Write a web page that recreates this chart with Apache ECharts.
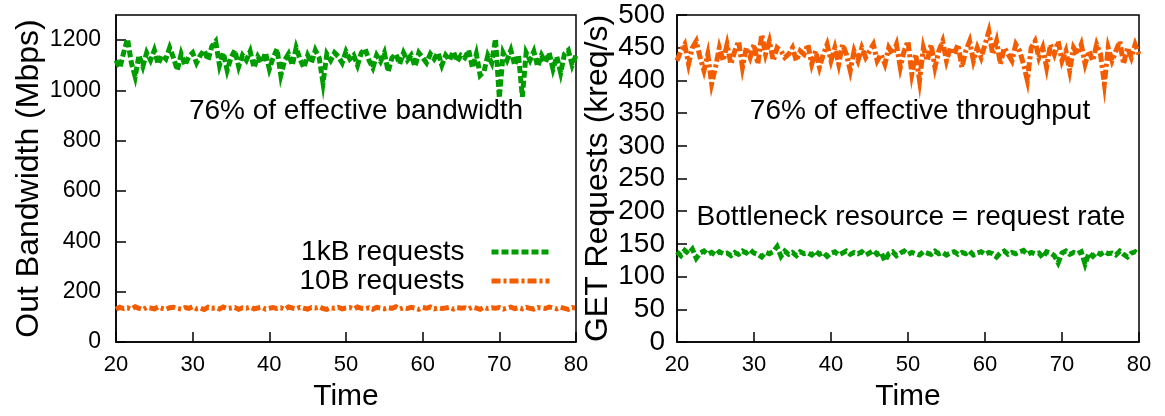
<!DOCTYPE html>
<html>
<head>
<meta charset="utf-8">
<script src="https://cdn.jsdelivr.net/npm/echarts@6/dist/echarts.min.js"></script>
<style>
  html, body { margin: 0; padding: 0; background: #fff; }
  #chart { width: 1165px; height: 416px; }
</style>
</head>
<body>
<div id="chart"></div>
<script>
// Sample times (s)
const TIME = [
  20, 20.5, 21, 21.5, 22, 22.5, 23, 23.5, 24, 24.5,
  25, 25.5, 26, 26.5, 27, 27.5, 28, 28.5, 29, 29.5,
  30, 30.5, 31, 31.5, 32, 32.5, 33, 33.5, 34, 34.5,
  35, 35.5, 36, 36.5, 37, 37.5, 38, 38.5, 39, 39.5,
  40, 40.5, 41, 41.5, 42, 42.5, 43, 43.5, 44, 44.5,
  45, 45.5, 46, 46.5, 47, 47.5, 48, 48.5, 49, 49.5,
  50, 50.5, 51, 51.5, 52, 52.5, 53, 53.5, 54, 54.5,
  55, 55.5, 56, 56.5, 57, 57.5, 58, 58.5, 59, 59.5,
  60, 60.5, 61, 61.5, 62, 62.5, 63, 63.5, 64, 64.5,
  65, 65.5, 66, 66.5, 67, 67.5, 68, 68.5, 69, 69.5,
  70, 70.5, 71, 71.5, 72, 72.5, 73, 73.5, 74, 74.5,
  75, 75.5, 76, 76.5, 77, 77.5, 78, 78.5, 79, 79.5,
  80
];

// Outgoing bandwidth (Mbps)
const BW_1KB = [
  1120, 1090, 1150, 1205, 1110, 1055, 1140, 1095, 1150, 1120,
  1160, 1105, 1140, 1125, 1170, 1130, 1080, 1145, 1100, 1135,
  1150, 1110, 1140, 1160, 1120, 1175, 1195, 1100, 1150, 1080,
  1130, 1160, 1095, 1140, 1120, 1155, 1090, 1135, 1110, 1150,
  1085, 1130, 1165, 1060, 1120, 1145, 1100, 1170, 1125, 1090,
  1140, 1110, 1160, 1130, 1030, 1145, 1120, 1150, 1135, 1110,
  1155, 1125, 1140, 1100, 1150, 1165, 1120, 1090, 1140, 1115,
  1150, 1075, 1130, 1145, 1105, 1150, 1120, 1140, 1095, 1150,
  1130, 1110, 1145, 1125, 1150, 1100, 1140, 1120, 1155, 1115,
  1140, 1130, 1160, 1090, 1145, 1060, 1075, 1140, 1110, 1205,
  970, 1150, 1120, 1160, 1100, 1140, 975, 1150, 1120, 1155,
  1095, 1140, 1110, 1150, 1085, 1135, 1070, 1145, 1160, 1100,
  1140
];
const BW_10B = [
  130, 138, 133, 136, 131, 140, 134, 129, 137, 135,
  132, 139, 134, 130, 136, 138, 133, 131, 137, 134,
  140, 132, 135, 129, 138, 134, 136, 131, 139, 133,
  135, 137, 130, 136, 134, 139, 132, 135, 138, 131,
  134, 137, 133, 136, 130, 139, 135, 132, 138, 134,
  131, 137, 135, 140, 133, 130, 136, 134, 138, 132,
  135, 137, 131, 139, 134, 133, 136, 130, 138, 135,
  132, 137, 134, 140, 131, 136, 133, 138, 135, 130,
  137, 134, 139, 132, 136, 133, 135, 138, 131, 137,
  134, 136, 132, 139, 135, 130, 138, 133, 136, 134,
  137, 131, 135, 139, 133, 136, 132, 138, 134, 131,
  137, 135, 133, 139, 136, 132, 138, 134, 130, 137,
  135
];

// GET request rate (kreq/s)
const REQ_1KB = [
  138, 132, 140, 135, 142, 128, 136, 139, 134, 137,
  133, 138, 135, 136, 132, 137, 134, 139, 136, 141,
  136, 134, 130, 137, 135, 138, 146, 131, 139, 134,
  137, 132, 138, 135, 136, 133, 139, 134, 137, 131,
  136, 138, 133, 136, 139, 134, 137, 135, 138, 133,
  136, 140, 134, 137, 124, 135, 138, 132, 136, 139,
  134, 137, 135, 133, 138, 136, 134, 139, 135, 137,
  133, 136, 138, 134, 137, 135, 139, 133, 136, 138,
  134, 137, 135, 130, 136, 139, 134, 137, 135, 138,
  140, 134, 137, 135, 136, 129, 138, 136, 132, 121,
  136, 139, 134, 137, 135, 138, 119, 136, 131, 137,
  134, 138, 135, 136, 133, 139, 134, 130, 136, 138,
  134
];
const REQ_10B = [
  430, 445, 455, 425, 450, 460, 435, 415, 440, 395,
  420, 450, 430, 455, 425, 445, 460, 420, 450, 435,
  455, 425, 470, 440, 460, 430, 450, 445, 435, 440,
  450, 430, 445, 440, 455, 425, 445, 420, 440, 455,
  430, 450, 425, 455, 440, 415, 445, 430, 450, 435,
  445, 455, 430, 440, 425, 450, 440, 455, 420, 445,
  460, 410, 440, 400, 450, 430, 455, 420, 445, 460,
  430, 450, 440, 455, 420, 445, 460, 430, 450, 435,
  455, 475, 440, 460, 425, 450, 440, 430, 455, 445,
  425, 400, 450, 460, 435, 450, 420, 455, 440, 460,
  430, 445, 415, 450, 440, 455, 425, 445, 430, 455,
  440, 395, 450, 430, 445, 460, 425, 450, 435, 455,
  440
];

const SERIES_NAMES = ['1kB requests', '10B requests'];
const TIME_RANGE = [20, 80, 10];
const BW_RANGE = [0, 1300, 200];
const REQ_RANGE = [0, 500, 50];

const FONT = '"Liberation Sans", Arial, Helvetica, sans-serif';
const GREEN = '#009c00';
const ORANGE = '#f45c00';

const pairs = (vals) => TIME.map((t, i) => [t, vals[i]]);
const plain = (v) => String(v);

const chart = echarts.init(document.getElementById('chart'), null, { renderer: 'canvas' });

const axisCommon = {
  axisLine: { show: true, onZero: false, lineStyle: { color: '#000', width: 1.5 } },
  axisTick: { show: true, inside: true, length: 10, lineStyle: { color: '#000', width: 1.5 } },
  splitLine: { show: false }
};

const xAxis = (gridIndex) => Object.assign({}, axisCommon, {
  type: 'value', gridIndex,
  min: TIME_RANGE[0], max: TIME_RANGE[1], interval: TIME_RANGE[2],
  name: 'Time', nameLocation: 'middle', nameGap: 40,
  nameTextStyle: { color: '#000', fontFamily: FONT, fontSize: 30 },
  axisLabel: { color: '#000', fontFamily: FONT, fontSize: 22, margin: 12, formatter: plain }
});

const lineSeries = (name, data, xi, yi, color, dash) => ({
  name, type: 'line', xAxisIndex: xi, yAxisIndex: yi,
  data, showSymbol: false, symbol: 'none', animation: false,
  lineStyle: { color, width: 5, type: dash, cap: 'butt', join: 'miter' },
  itemStyle: { color }
});

const gridBox = { top: 15, bottom: 74, show: true, borderColor: '#000', borderWidth: 1.5,
  backgroundColor: 'transparent', containLabel: false, outerBoundsMode: 'none' };

chart.setOption({
  backgroundColor: '#fff',
  animation: false,
  grid: [
    Object.assign({ left: 116, right: 589 }, gridBox),
    Object.assign({ left: 677, right: 26 }, gridBox)
  ],
  xAxis: [xAxis(0), xAxis(1)],
  yAxis: [
    Object.assign({}, axisCommon, {
      type: 'value', gridIndex: 0,
      min: BW_RANGE[0], max: BW_RANGE[1], interval: BW_RANGE[2],
      name: 'Out Bandwidth (Mbps)', nameLocation: 'middle', nameRotate: 90, nameGap: 71,
      nameTextStyle: { color: '#000', fontFamily: FONT, fontSize: 32 },
      axisLabel: { color: '#000', fontFamily: FONT, fontSize: 23, margin: 15, showMaxLabel: false, formatter: plain }
    }),
    Object.assign({}, axisCommon, {
      type: 'value', gridIndex: 1,
      min: REQ_RANGE[0], max: REQ_RANGE[1], interval: REQ_RANGE[2],
      name: 'GET Requests (kreq/s)', nameLocation: 'middle', nameRotate: 90, nameGap: 61,
      nameTextStyle: { color: '#000', fontFamily: FONT, fontSize: 32 },
      axisLabel: { color: '#000', fontFamily: FONT, fontSize: 28, margin: 12, formatter: plain }
    })
  ],
  legend: {
    orient: 'vertical', right: 608, top: 233, align: 'right',
    itemWidth: 58, itemHeight: 14, itemGap: 1, selectedMode: false,
    data: SERIES_NAMES,
    itemStyle: { opacity: 0 },
    lineStyle: { width: 5 },
    textStyle: { color: '#000', fontFamily: FONT, fontSize: 28, lineHeight: 28, padding: [0, 22, 0, 0] }
  },
  series: [
    lineSeries(SERIES_NAMES[0], pairs(BW_1KB), 0, 0, GREEN, [7, 3]),
    lineSeries(SERIES_NAMES[1], pairs(BW_10B), 0, 0, ORANGE, [9, 3, 3, 3]),
    lineSeries(SERIES_NAMES[0], pairs(REQ_1KB), 1, 1, GREEN, [7, 3]),
    lineSeries(SERIES_NAMES[1], pairs(REQ_10B), 1, 1, ORANGE, [9, 3, 3, 3])
  ],
  graphic: [
    { type: 'text', x: 356, y: 111, style: { text: '76% of effective bandwidth', fontFamily: FONT, fontSize: 28, fill: '#000', align: 'center', verticalAlign: 'middle' } },
    { type: 'text', x: 920, y: 111, style: { text: '76% of effective throughput', fontFamily: FONT, fontSize: 28, fill: '#000', align: 'center', verticalAlign: 'middle' } },
    { type: 'text', x: 911, y: 217, style: { text: 'Bottleneck resource = request rate', fontFamily: FONT, fontSize: 28, fill: '#000', align: 'center', verticalAlign: 'middle' } }
  ]
});
</script>
</body>
</html>
